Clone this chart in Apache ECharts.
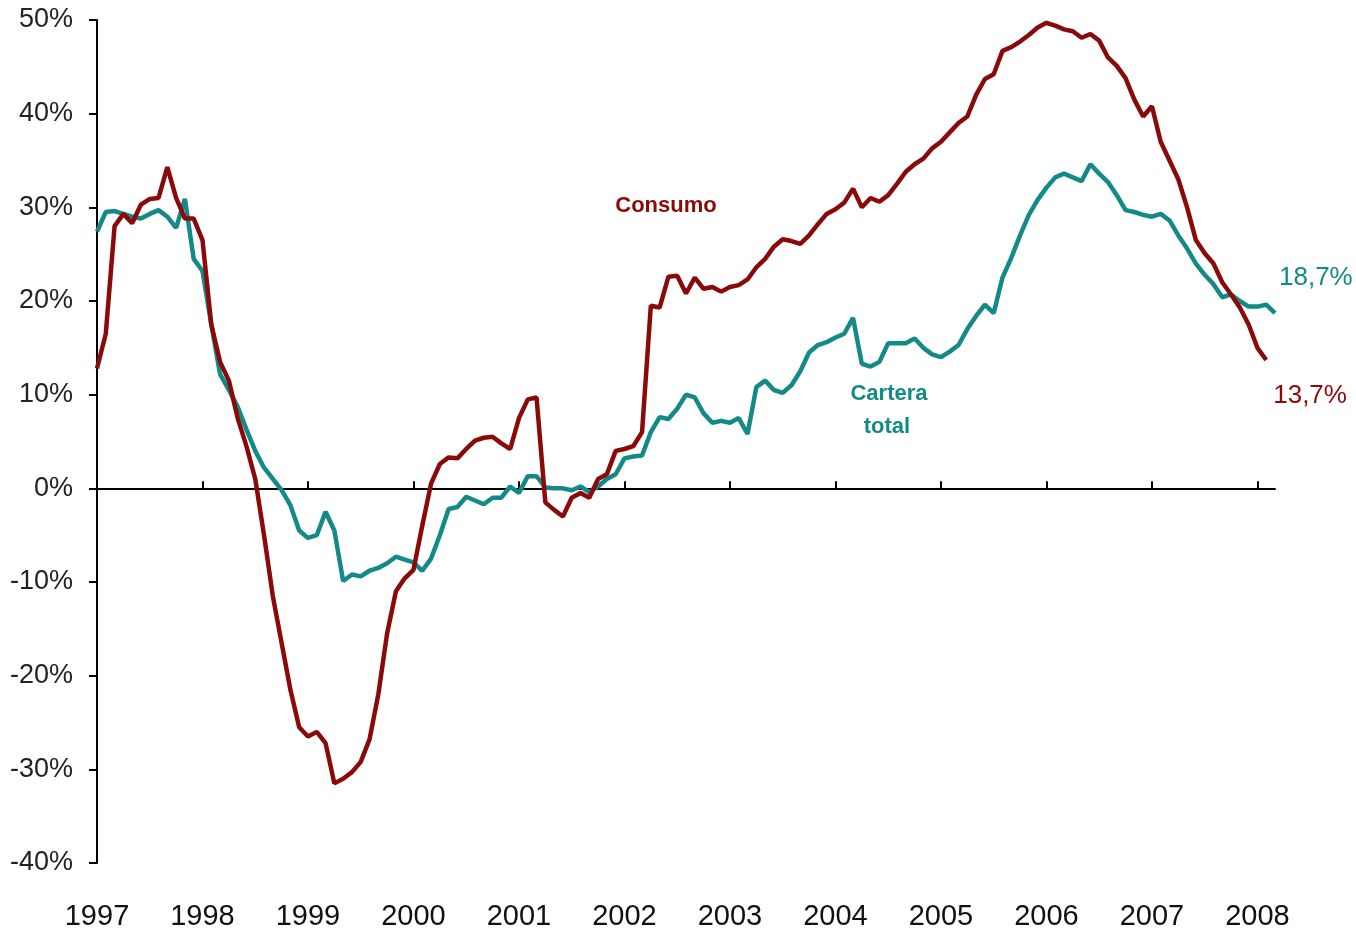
<!DOCTYPE html>
<html>
<head>
<meta charset="utf-8">
<title>Consumo vs Cartera total</title>
<script src="https://cdn.jsdelivr.net/npm/echarts@6/dist/echarts.min.js"></script>
<style>
  html, body { margin: 0; padding: 0; background: #fff; }
  #chart { width: 1356px; height: 936px; }
</style>
</head>
<body>
<div id="chart"></div>
<script>
// monthly growth rates, Jan 1997 onwards (%)
const years = ['1997', '1998', '1999', '2000', '2001', '2002', '2003', '2004', '2005', '2006', '2007', '2008']
const monthsIn2008 = 3

const consumo = [
  12.8, 16.5, 28.0, 29.3, 28.3, 30.3, 30.9, 31.0, 34.3, 31.0, 28.8, 28.8,
  26.5, 17.5, 13.5, 11.5, 7.5, 4.5, 1.0, -5.0, -11.5, -16.5, -21.5, -25.5,
  -26.5, -26.0, -27.2, -31.5, -31.0, -30.3, -29.2, -26.8, -22.0, -15.5, -11.0, -9.6,
  -8.7, -4.0, 0.5, 2.6, 3.3, 3.2, 4.2, 5.1, 5.4, 5.5, 4.8, 4.2,
  7.5, 9.5, 9.7, -1.5, -2.3, -3.0, -1.0, -0.5, -1.0, 1.0, 1.5, 4.0,
  4.2, 4.5, 6.0, 19.5, 19.3, 22.6, 22.7, 20.8, 22.5, 21.3, 21.5, 21.0,
  21.5, 21.7, 22.3, 23.6, 24.5, 25.8, 26.6, 26.4, 26.1, 27.0, 28.2, 29.3,
  29.8, 30.5, 32.0, 30.0, 31.0, 30.6, 31.3, 32.5, 33.8, 34.6, 35.2, 36.3,
  37.0, 38.0, 39.0, 39.7, 42.0, 43.7, 44.2, 46.7, 47.1, 47.7, 48.4, 49.2,
  49.7, 49.4, 49.0, 48.8, 48.1, 48.5, 47.8, 46.0, 45.1, 43.8, 41.5, 39.7,
  40.8, 37.0, 35.0, 33.0, 30.0, 26.5, 25.1, 24.0, 22.0, 20.7, 19.3, 17.5,
  15.0, 13.7
]

const carteraTotal = [
  27.4, 29.5, 29.6, 29.3, 29.0, 28.8, 29.3, 29.7, 29.0, 27.8, 30.9, 24.5,
  23.2, 17.5, 12.2, 10.5, 8.7, 6.3, 4.0, 2.2, 1.0, -0.2, -1.8, -4.5,
  -5.3, -5.0, -2.5, -4.5, -9.9, -9.2, -9.4, -8.8, -8.5, -8.0, -7.3, -7.6,
  -7.9, -8.8, -7.5, -5.0, -2.2, -2.0, -0.9, -1.3, -1.7, -1.0, -1.0, 0.2,
  -0.5, 1.3, 1.3, 0.1, 0.0, 0.0, -0.2, 0.2, -0.4, 0.2, 1.0, 1.5,
  3.2, 3.4, 3.5, 6.0, 7.6, 7.4, 8.5, 10.0, 9.7, 8.0, 7.0, 7.2,
  7.0, 7.5, 5.8, 10.8, 11.5, 10.5, 10.2, 11.0, 12.5, 14.5, 15.3, 15.6,
  16.1, 16.5, 18.2, 13.3, 13.0, 13.5, 15.5, 15.5, 15.5, 16.0, 15.0, 14.3,
  14.0, 14.6, 15.3, 17.0, 18.4, 19.6, 18.7, 22.5, 24.6, 27.0, 29.2, 30.8,
  32.1, 33.2, 33.6, 33.2, 32.8, 34.6, 33.6, 32.7, 31.3, 29.7, 29.5, 29.2,
  29.0, 29.3, 28.6, 27.0, 25.6, 24.0, 22.8, 21.8, 20.4, 20.7, 20.0, 19.4,
  19.4, 19.6, 18.7
]

const yTicks = { min: -40, max: 50, step: 10 }

const RED = '#8a0a0a'
const TEAL = '#138a87'

// month categories, label shown only in January
const months = []
years.forEach((y, k) => {
  const n = k === years.length - 1 ? monthsIn2008 : 12
  for (let m = 1; m <= n; m++) months.push(y + '-' + String(m).padStart(2, '0'))
})
const isJan = (i) => i % 12 === 0

const fmt = (v) => String(v.toFixed(1)).replace('.', ',') + '%'

const noteFont = 'bold 22px "Liberation Sans", Arial, sans-serif'

const chart = echarts.init(document.getElementById('chart'))

chart.setOption({
  animation: false,
  backgroundColor: '#fff',
  grid: { left: 97, right: 81, top: 20, bottom: 73 },
  xAxis: [
    {
      type: 'category',
      data: months,
      boundaryGap: false,
      axisLine: { show: false, onZero: false },
      axisTick: { show: false },
      splitLine: { show: false },
      axisLabel: {
        interval: (i) => isJan(i),
        formatter: (v) => v.slice(0, 4),
        color: '#111',
        fontSize: 29,
        fontFamily: '"Liberation Sans Narrow", "Arial Narrow", "Liberation Sans", Arial, sans-serif',
        margin: 39
      }
    },
    {
      type: 'category',
      data: months,
      boundaryGap: false,
      axisLine: { show: true, onZero: true, lineStyle: { color: '#000', width: 2 } },
      axisTick: { show: true, interval: (i) => isJan(i), length: 7, lineStyle: { color: '#000', width: 2 } },
      axisLabel: { show: false },
      splitLine: { show: false }
    }
  ],
  yAxis: {
    type: 'value',
    min: yTicks.min,
    max: yTicks.max,
    interval: yTicks.step,
    axisLine: { show: true, lineStyle: { color: '#000', width: 2 } },
    axisTick: { show: true, length: 8, lineStyle: { color: '#000', width: 2 } },
    splitLine: { show: false },
    axisLabel: {
      formatter: (v) => v + '%',
      color: '#222',
      fontSize: 27,
      fontFamily: '"Liberation Sans", Arial, sans-serif',
      margin: 24
    }
  },
  series: [
    {
      name: 'Cartera total',
      type: 'line',
      data: carteraTotal,
      symbol: 'none',
      lineStyle: { color: TEAL, width: 4.5 },
      itemStyle: { color: TEAL },
      endLabel: {
        show: true,
        formatter: (p) => fmt(p.value),
        color: TEAL,
        fontSize: 26,
        fontFamily: '"Liberation Sans", Arial, sans-serif',
        distance: 4,
        offset: [0, -35]
      },
      z: 2
    },
    {
      name: 'Consumo',
      type: 'line',
      data: consumo,
      symbol: 'none',
      lineStyle: { color: RED, width: 4.5 },
      itemStyle: { color: RED },
      endLabel: {
        show: true,
        formatter: (p) => fmt(p.value),
        color: RED,
        fontSize: 26,
        fontFamily: '"Liberation Sans", Arial, sans-serif',
        distance: 7,
        offset: [0, 36]
      },
      z: 3
    }
  ],
  graphic: [
    {
      type: 'text',
      x: 666,
      y: 195,
      style: { text: 'Consumo', fill: RED, font: noteFont, align: 'center', verticalAlign: 'top' }
    },
    {
      type: 'text',
      x: 889,
      y: 383,
      style: { text: 'Cartera', fill: TEAL, font: noteFont, align: 'center', verticalAlign: 'top' }
    },
    {
      type: 'text',
      x: 887,
      y: 416,
      style: { text: 'total', fill: TEAL, font: noteFont, align: 'center', verticalAlign: 'top' }
    }
  ]
})
</script>
</body>
</html>
